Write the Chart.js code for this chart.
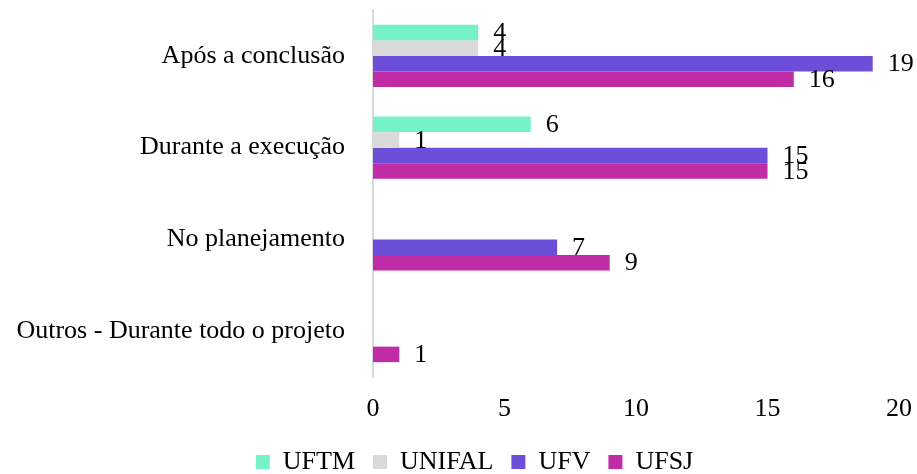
<!DOCTYPE html>
<html>
<head>
<meta charset="utf-8">
<script src="https://cdn.jsdelivr.net/npm/chart.js@4"></script>
<style>
  html, body { margin: 0; padding: 0; background: #fff; }
  #wrap { width: 917px; height: 474px; }
</style>
</head>
<body>
<div id="wrap"><canvas id="momentoChart" width="917" height="474"></canvas></div>
<script>
const categorias = ['Após a conclusão', 'Durante a execução', 'No planejamento', 'Outros - Durante todo o projeto'];
const uftm = [4, 6, null, null];
const unifal = [4, 1, null, null];
const ufv = [19, 15, 7, null];
const ufsj = [16, 15, 9, 1];
const ticksX = [0, 5, 10, 15, 20];

const fonte = { family: "'Liberation Serif', 'Times New Roman', serif", size: 26 };

// escreve o valor à direita de cada barra
const rotulos = {
    id: 'rotulos',
    afterDatasetsDraw(chart) {
        const ctx = chart.ctx;
        ctx.save();
        ctx.font = `${fonte.size}px ${fonte.family}`;
        ctx.fillStyle = '#000';
        ctx.textAlign = 'left';
        ctx.textBaseline = 'middle';
        chart.data.datasets.forEach((ds, i) => {
            chart.getDatasetMeta(i).data.forEach((bar, j) => {
                const v = ds.data[j];
                if (v === null || v === undefined) return;
                ctx.fillText(String(v), bar.x + 15, bar.y + 1);
            });
        });
        ctx.restore();
    }
};

// puxa a legenda um pouco para a direita
const legendaDeslocada = {
    id: 'legendaDeslocada',
    afterLayout(chart) {
        if (chart.legend) chart.legend.left = 50;
    }
};

const ctx = document.getElementById('momentoChart').getContext('2d');
new Chart(ctx, {
    type: 'bar',
    data: {
        labels: categorias,
        datasets: [
            { label: 'UFTM', data: uftm, backgroundColor: '#75F2C7' },
            { label: 'UNIFAL', data: unifal, backgroundColor: '#DADADA' },
            { label: 'UFV', data: ufv, backgroundColor: '#6D4ED9' },
            { label: 'UFSJ', data: ufsj, backgroundColor: '#BF2CA5' }
        ]
    },
    options: {
        indexAxis: 'y',
        responsive: false,
        animation: false,
        layout: { padding: { top: 10, right: 18, left: 0, bottom: 0 } },
        datasets: { bar: { categoryPercentage: 0.676, barPercentage: 1 } },
        scales: {
            x: {
                min: 0,
                max: 20,
                afterBuildTicks(axis) { axis.ticks = ticksX.map(v => ({ value: v })); },
                afterFit(axis) {
                    axis.height = 54;
                    axis.paddingLeft = 0;
                    axis.paddingRight = 0;
                },
                grid: { display: false, drawTicks: false },
                border: { display: false },
                ticks: { color: '#000', font: fonte, padding: 17 }
            },
            y: {
                afterFit(axis) {
                    axis.width = 373;
                    axis.paddingTop = 0;
                    axis.paddingBottom = 0;
                },
                grid: { display: false, drawTicks: false },
                border: { display: true, color: '#D9D9D9', width: 2 },
                ticks: { color: '#000', font: fonte, padding: 28 }
            }
        },
        plugins: {
            legend: {
                position: 'bottom',
                maxHeight: 43,
                labels: { color: '#000', font: fonte, boxWidth: 14, boxHeight: 14, padding: 18 }
            },
            tooltip: { enabled: false }
        }
    },
    plugins: [rotulos, legendaDeslocada]
});
</script>
</body>
</html>
